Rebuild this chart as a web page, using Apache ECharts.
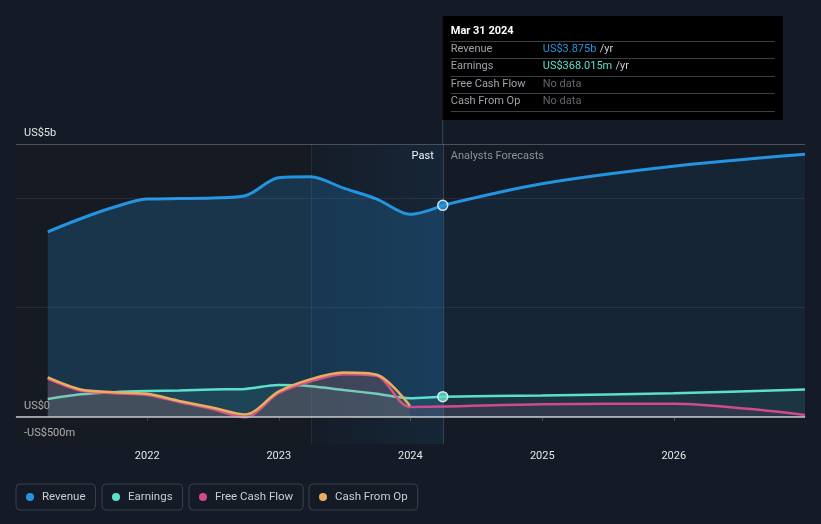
<!DOCTYPE html>
<html><head><meta charset="utf-8">
<script src="https://cdn.jsdelivr.net/npm/echarts@6/dist/echarts.min.js"></script>
<style>html,body{margin:0;padding:0;background:#151b26;}#c{width:821px;height:524px;}</style>
</head><body><div id="c"></div>
<script>
// ---- data (US$ billions) ----
const pastDates = ['2021-03-31','2021-06-30','2021-09-30','2021-12-31','2022-03-31','2022-06-30','2022-09-30','2022-12-31','2023-03-31','2023-06-30','2023-09-30','2023-12-31','2024-03-31'];
const revenuePast = [3.39,3.63,3.84,3.99,4.00,4.01,4.05,4.38,4.40,4.19,3.99,3.71,3.875];
const earningsPast = [0.325,0.41,0.45,0.47,0.48,0.50,0.51,0.58,0.56,0.49,0.42,0.34,0.368];
const cashDates = ['2021-03-31','2021-06-30','2021-09-30','2021-12-31','2022-03-31','2022-06-30','2022-09-30','2022-12-31','2023-03-31','2023-06-30','2023-09-30','2023-12-31'];
const fcfPast = [0.70,0.48,0.43,0.40,0.27,0.14,-0.01,0.43,0.65,0.78,0.75,0.18];
const cfoPast = [0.72,0.50,0.45,0.42,0.29,0.17,0.04,0.46,0.69,0.81,0.77,0.20];
const forecastDates = ['2024-03-31','2024-12-31','2025-12-31','2026-12-31'];
const revenueForecast = [3.875,4.27,4.59,4.81];
const earningsForecast = [0.368,0.39,0.43,0.50];
const fcfForecastDates = ['2024-12-31','2025-12-31','2026-12-31'];
const fcfForecast = [0.23,0.24,0.03];
const yTickLabels = {'5':'US$5b','0':'US$0','-0.5':'-US$500m'};
const seriesNames = ['Revenue','Earnings','Free Cash Flow','Cash From Op'];
const axisStart = '2021-01-02', axisEnd = '2026-12-31';
const nowDate = '2024-03-31';
const highlightStart = '2023-03-31';
const tooltipTitle = 'Mar 31 2024';
const tooltipRows = [['Revenue','US$3.875b'],['Earnings','US$368.015m'],['Free Cash Flow',null],['Cash From Op',null]];

const BLUE='#2394df', TEAL='#5ce0cc', PINK='#d04a8c', ORANGE='#e9ae5e';
const colors=[BLUE,TEAL,PINK,ORANGE];
const FONT='Roboto';
const zip=(a,b)=>a.map((d,i)=>[d,b[i]]);

const chart = echarts.init(document.getElementById('c'));
const legendLefts=[16,102,189,309];
const option = {
  animation:false,
  backgroundColor:'#151b26',
  textStyle:{fontFamily:FONT},
  grid:{left:16,right:16,top:144,bottom:80},
  xAxis:{type:'time',min:axisStart,max:axisEnd,
    minInterval:365*24*3600*1000, maxInterval:366*24*3600*1000,
    axisLine:{lineStyle:{color:'#4a505a'}},
    axisTick:{show:true,length:4,lineStyle:{color:'#4a505a'}},
    axisLabel:{formatter:'{yyyy}',color:'#e6e6e6',fontSize:11,margin:7,fontFamily:FONT},
    splitLine:{show:false}},
  yAxis:{type:'value',min:-0.5,max:5,interval:0.5,
    axisLine:{show:false},axisTick:{show:false},splitLine:{show:false},
    axisLabel:{inside:true,margin:8,color:'#e6e6e6',fontSize:11,verticalAlign:'bottom',padding:[0,0,5,0],fontFamily:FONT,
      formatter:v=>yTickLabels[String(Math.round(v*10)/10)]||''}},
  legend: seriesNames.map((n,i)=>({
    left:legendLefts[i],top:484,data:[{name:n,itemStyle:{color:colors[i]}}],
    icon:'circle',itemWidth:8,itemHeight:8,
    borderColor:'#3b414b',borderWidth:1,borderRadius:4,padding:[7,10,7,10],
    textStyle:{color:'#c9cdd2',fontSize:11.5,fontFamily:FONT,padding:[0,0,0,3]}})),
  series:[
    {name:'Revenue',type:'line',data:zip(pastDates,revenuePast),smooth:0.3,showSymbol:false,z:2,
      lineStyle:{color:BLUE,width:3},itemStyle:{color:BLUE},areaStyle:{color:'rgba(35,148,223,0.32)'},
      markArea:{silent:true,data:[
        [{xAxis:axisStart,itemStyle:{color:'rgba(26,26,26,0.3)'}},{xAxis:highlightStart}],
        [{xAxis:highlightStart,itemStyle:{color:new echarts.graphic.LinearGradient(0,0,1,0,[{offset:0,color:'rgba(35,148,223,0.01)'},{offset:1,color:'rgba(35,148,223,0.09)'}])}},{xAxis:nowDate}]
      ]},
      markLine:{silent:true,symbol:'none',label:{show:false},data:[
        {yAxis:2,lineStyle:{color:'rgba(255,255,255,0.07)',width:1,type:'solid'}},
        {yAxis:4,lineStyle:{color:'rgba(255,255,255,0.07)',width:1,type:'solid'}},
        {yAxis:5,lineStyle:{color:'#4a505a',width:1,type:'solid'}},
        {xAxis:highlightStart,lineStyle:{color:'rgba(100,150,190,0.15)',width:1,type:'solid'}},
        {xAxis:nowDate,lineStyle:{color:'rgba(100,150,190,0.35)',width:1,type:'solid'}}
      ]}},
    {name:'Revenue',type:'line',data:zip(forecastDates,revenueForecast),smooth:0.3,showSymbol:false,z:2,
      lineStyle:{color:BLUE,width:3},itemStyle:{color:BLUE},areaStyle:{color:'rgba(35,148,223,0.12)'}},
    {name:'Earnings',type:'line',data:zip(pastDates.concat(forecastDates.slice(1)),earningsPast.concat(earningsForecast.slice(1))),smooth:0.3,showSymbol:false,z:3,
      lineStyle:{color:TEAL,width:2.5},itemStyle:{color:TEAL},areaStyle:{color:'rgba(92,224,204,0.13)'}},
    {name:'Free Cash Flow',type:'line',data:zip(cashDates.concat(fcfForecastDates),fcfPast.concat(fcfForecast)),smooth:0.3,showSymbol:false,z:4,
      lineStyle:{color:PINK,width:2.5},itemStyle:{color:PINK},areaStyle:{color:'rgba(208,74,140,0.15)'}},
    {name:'Cash From Op',type:'line',data:zip(cashDates,cfoPast),smooth:0.3,showSymbol:false,z:5,
      lineStyle:{color:ORANGE,width:2.5},itemStyle:{color:ORANGE},areaStyle:{color:'rgba(233,174,94,0.15)'},
      markLine:{silent:true,symbol:'none',label:{show:false},data:[
        {yAxis:0,lineStyle:{color:'#c4c8cc',width:1.5,type:'solid'}}]}},
    {name:'Revenue',type:'scatter',z:10,symbolSize:10,data:[[nowDate,revenuePast[revenuePast.length-1]]],
      itemStyle:{color:BLUE,borderColor:'#ffffff',borderWidth:1.5}},
    {name:'Earnings',type:'scatter',z:10,symbolSize:10,data:[[nowDate,earningsPast[earningsPast.length-1]]],
      itemStyle:{color:TEAL,borderColor:'#ffffff',borderWidth:1.5}}
  ]
};
chart.setOption(option);

const x0 = chart.convertToPixel({xAxisIndex:0}, nowDate);
const topY = chart.convertToPixel({yAxisIndex:0}, 5);
const g = [];
g.push({type:'line',shape:{x1:x0,y1:120,x2:x0,y2:topY},style:{stroke:'rgba(100,150,190,0.35)',lineWidth:1},silent:true});
g.push({type:'text',x:x0-9,y:topY+12,style:{text:'Past',fill:'#ffffff',font:'11px '+FONT,align:'right',verticalAlign:'middle'}});
g.push({type:'text',x:x0+8,y:topY+12,style:{text:'Analysts Forecasts',fill:'#8a9099',font:'11px '+FONT,align:'left',verticalAlign:'middle'}});
// tooltip box
g.push({type:'rect',shape:{x:x0,y:16,width:340,height:104},style:{fill:'#000000'},silent:true});
g.push({type:'text',x:x0+8,y:31,style:{text:tooltipTitle,fill:'#ffffff',font:'bold 11px '+FONT,verticalAlign:'middle'}});
const rowY=[49.5,66.5,84,101];
const sepY=[41.5,58.5,76.5,93.5,111.5];
sepY.forEach(y=>g.push({type:'line',shape:{x1:x0+8,y1:y,x2:x0+332,y2:y},style:{stroke:'#3c3f44',lineWidth:1},silent:true}));
tooltipRows.forEach((r,i)=>{
  g.push({type:'text',x:x0+8,y:rowY[i],style:{text:r[0],fill:'#9ea2a8',font:'11px '+FONT,verticalAlign:'middle'}});
  if(r[1]){
    g.push({type:'text',x:x0+100,y:rowY[i],style:{rich:{v:{fill:colors[i],font:'11px '+FONT},u:{fill:'#c9cdd2',font:'11px '+FONT}},text:'{v|'+r[1]+'} {u|/yr}',verticalAlign:'middle'}});
  } else {
    g.push({type:'text',x:x0+100,y:rowY[i],style:{text:'No data',fill:'#62666c',font:'11px '+FONT,verticalAlign:'middle'}});
  }
});
chart.setOption({graphic:g});
</script></body></html>
